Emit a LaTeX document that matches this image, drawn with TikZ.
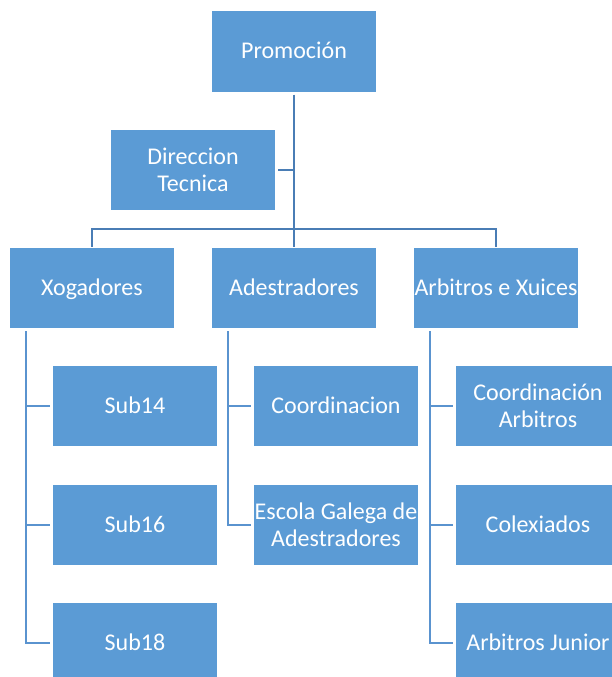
\documentclass[tikz,border=0pt]{standalone}
\usepackage{fontspec}
\setmainfont{Carlito}
\usepackage{xcolor}
\usetikzlibrary{positioning}
\definecolor{boxblue}{HTML}{5B9BD5}
\definecolor{mainblue}{HTML}{4A7DB5}
\definecolor{subblue}{HTML}{5A93CF}

\tikzset{
  unit/.style={fill=boxblue, text=white, minimum width=164pt, minimum height=80pt,
    inner sep=0pt, align=center, font=\fontsize{24}{27}\selectfont},
  oneline/.style={unit, text height=15pt, text depth=0pt},
  mainline/.style={draw=mainblue, line width=2.4pt},
  subline/.style={draw=subblue, line width=2.6pt}
}

\begin{document}
\begin{tikzpicture}[x=1pt, y=-1pt]
    \clip (0,0) rectangle (612,677);
    \fill[white] (0,0) rectangle (612,677);
    % top of the chart
    \node[oneline] (prom) at (294, 51.5) {Promoción};
    \node[unit] (dir) at (193, 170) {Direccion\\Tecnica};
    %
    \node[oneline] (xog) at (92, 288) {Xogadores};
    \node[oneline] (ade) at (294, 288) {Adestradores};
    \node[oneline] (arb) at (496, 288) {Arbitros e Xuices};
    %
    \node[oneline] (sub14) at (135, 406) {Sub14};
    \node[oneline] (sub16) at (135, 525) {Sub16};
    \node[oneline] (sub18) at (135, 643) {Sub18};
    %
    \node[oneline] (coord) at (336, 406) {Coordinacion};
    \node[unit] (escola) at (336, 525) {Escola Galega de\\Adestradores};
    %
    \node[unit] (coordarb) at (538, 406) {Coordinación\\Arbitros};
    \node[oneline] (colex) at (538, 525) {Colexiados};
    \node[oneline] (arbjun) at (538, 643) {Arbitros Junior};
    % connectors
    \coordinate (bar) at (0, 229);
    \draw[mainline, shorten <=3pt, shorten >=1pt] (prom.south) -- (ade.north);
    \draw[mainline, shorten <=3pt] (dir.east) -- (dir.east -| prom.south);
    \draw[mainline, shorten <=1pt, shorten >=1pt] (xog.north) -- (xog.north |- bar) -- (arb.north |- bar) -- (arb.north);
    %
    \foreach \boss/\kid in {xog/sub14, xog/sub16, xog/sub18, ade/coord, ade/escola,
      arb/coordarb, arb/colex, arb/arbjun}
      \draw[subline, shorten <=3pt, shorten >=2.5pt] ([xshift=16pt]\boss.south west) |- (\kid.west);
  \end{tikzpicture}
\end{document}
